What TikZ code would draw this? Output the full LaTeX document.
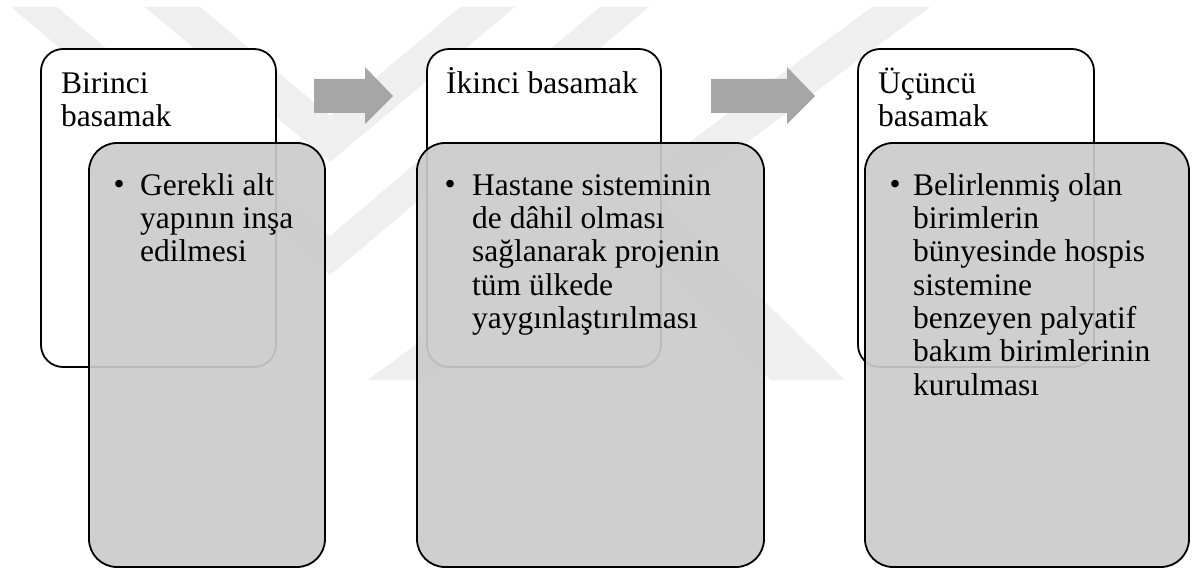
\documentclass[tikz,border=0pt]{standalone}
\usepackage{fontspec}
\setmainfont{Liberation Serif}
\definecolor{wm}{HTML}{EFEFEF}
\definecolor{arrowgrey}{HTML}{A6A6A6}
\definecolor{boxgrey}{HTML}{CBCBCB}
\begin{document}
\begin{tikzpicture}[x=1pt,y=-1pt,
  wmark/.style={fill=wm,draw=none},
  whitebox/.style={draw=black,line width=1.8pt,fill=white,rounded corners=22pt,inner sep=0pt,minimum height=318pt},
  greybox/.style={draw=black,line width=1.8pt,fill=boxgrey,fill opacity=0.92,rounded corners=28pt,inner sep=0pt,minimum height=424pt},
  blockarrow/.style={fill=arrowgrey,draw=none},
  txt/.style={font=\fontsize{31.5}{33.3}\selectfont,inner sep=0pt,align=left,anchor=north west},
  bul/.style={font=\fontsize{31.5}{33.3}\selectfont,inner sep=0pt,anchor=base west}]
\useasboundingbox (0,0) rectangle (1197,569);
\fill[white] (0,0) rectangle (1197,569);
% watermark
\fill[wmark] (145,7)--(330,162)--(515,7)--(460,7)--(330,116)--(200,7)--cycle;
\fill[wmark] (11,7)--(330,275)--(649,7)--(600,7)--(330,236)--(57,7)--cycle;
\fill[wmark] (872,7)--(930,7)--(426,380)--(368,380)--cycle;
\fill[wmark] (560,160)--(620,160)--(845,380)--(770,380)--cycle;
% white boxes
\node[whitebox,minimum width=235pt] (w1) at (158.5,208) {};
\node[whitebox,minimum width=234pt] (w2) at (544,208) {};
\node[whitebox,minimum width=236pt] (w3) at (976,208) {};
% arrows
\fill[blockarrow] (314,79)--(365,79)--(365,67)--(393,96)--(365,124)--(365,113)--(314,113)--cycle;
\fill[blockarrow] (711,79)--(787,79)--(787,67)--(815,96)--(787,124)--(787,113)--(711,113)--cycle;
% headers
\node[txt] (h1) at (61,63) {\rule{0pt}{30pt}Birinci\\basamak};
\node[txt] (h2) at (446,63) {\rule{0pt}{30pt}İkinci basamak};
\node[txt] (h3) at (878,63) {\rule{0pt}{30pt}Üçüncü\\basamak};
% grey boxes
\node[greybox,minimum width=236pt] (g1) at (207,355) {};
\node[greybox,minimum width=347pt] (g2) at (590.5,355) {};
\node[greybox,minimum width=324pt] (g3) at (1027,355) {};
% bullets
\node[bul] (b1) at (113.5,195) {•};
\node[txt] (t1) at (140,165) {\rule{0pt}{30pt}Gerekli alt\\yapının inşa\\edilmesi};
\node[bul] (b2) at (444.5,195) {•};
\node[txt] (t2) at (472,165) {\rule{0pt}{30pt}Hastane sisteminin\\de dâhil olması\\sağlanarak projenin\\tüm ülkede\\yaygınlaştırılması};
\node[bul] (b3) at (889.5,195) {•};
\node[txt] (t3) at (913,165) {\rule{0pt}{30pt}Belirlenmiş olan\\birimlerin\\bünyesinde hospis\\sistemine\\benzeyen palyatif\\bakım birimlerinin\\kurulması};
\end{tikzpicture}
\end{document}
